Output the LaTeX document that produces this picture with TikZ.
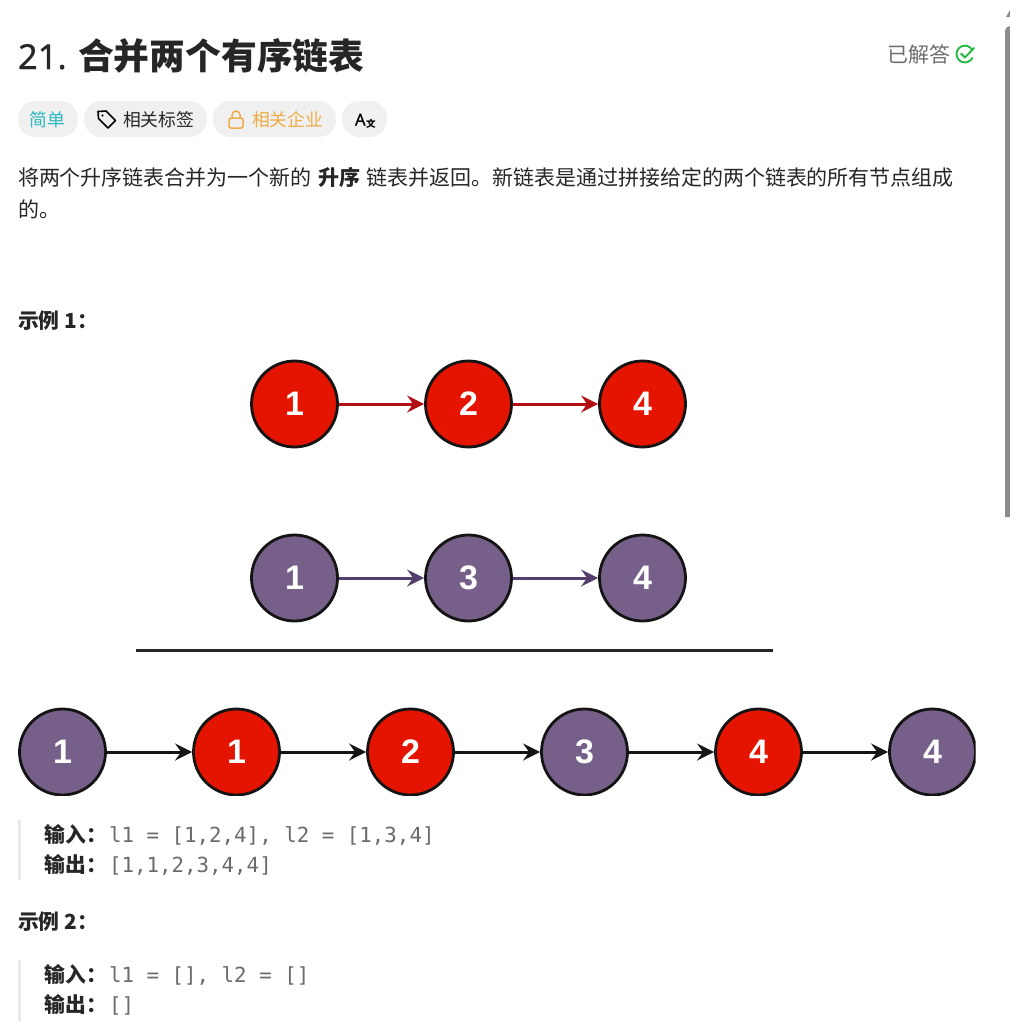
\documentclass[tikz,border=0pt]{standalone}
\usepackage{fontspec}
\setmainfont{Noto Sans CJK SC}
\setmonofont{DejaVu Sans Mono}
\newfontfamily\latinsans{Noto Sans}
\newfontfamily\latinfake{Noto Sans}[FakeBold=0.6]
\newfontfamily\helv{Liberation Sans}[BoldFont={Liberation Sans Bold}]
\usetikzlibrary{arrows.meta}
\definecolor{ink}{HTML}{262626}
\definecolor{redfill}{HTML}{E51400}
\definecolor{purfill}{HTML}{76608A}
\definecolor{redline}{HTML}{B20F14}
\definecolor{purline}{HTML}{533E6E}
\definecolor{pill}{HTML}{F0F0F0}
\definecolor{teal}{HTML}{2DB8C0}
\definecolor{gold}{HTML}{EDAD45}
\definecolor{greytext}{HTML}{6E6E6E}
\definecolor{mono}{HTML}{6B6B6B}
\definecolor{okgreen}{HTML}{1DB83D}
\tikzset{
 x=1pt,y=-1pt,
 lnode/.style={circle,draw=black!92,line width=2.8pt,minimum size=86pt,inner sep=0pt,text=white,font=\helv\bfseries\fontsize{34}{34}\selectfont},
 rnode/.style={lnode,fill=redfill},
 pnode/.style={lnode,fill=purfill},
 link/.style={line width=3pt,-{Stealth[length=17pt,width=17pt,inset=6pt]}},
 rlink/.style={link,draw=redline},
 plink/.style={link,draw=purline},
 klink/.style={link,draw=black!92},
 txt/.style={anchor=base west,inner sep=0pt,outer sep=0pt,text=ink},
 body/.style={txt,font=\fontsize{21}{21}\selectfont},
 bodyb/.style={txt,font=\bfseries\fontsize{20.8}{21}\selectfont},
 code/.style={txt,text=mono,font=\ttfamily\fontsize{20.8}{21}\selectfont},
 tagtxt/.style={txt,font=\fontsize{17.8}{18}\selectfont},
 pillbox/.style={fill=pill,rounded corners=17.5pt},
 quotebar/.style={fill=black!9}
}
\begin{document}
\begin{tikzpicture}
\useasboundingbox (0,0) rectangle (1010,1021);
\fill[white] (0,0) rectangle (1010,1021);
% scrollbar
\fill[black!45] (1005,517) -- (1005,31) arc[start angle=180,end angle=270,radius=5] -- (1010,517) -- cycle;
\fill[black!45] (1006,17) -- (1010,10) -- (1010,17) -- cycle;
% header
\node[txt,font=\latinfake\fontsize{34.5}{35}\selectfont,text=ink] (num) at (18,69) {21.};
\node[txt,font=\bfseries\fontsize{35.8}{36}\selectfont] (title) at (78,69) {合并两个有序链表};
\node[txt,text=greytext,font=\fontsize{21}{21}\selectfont] (solved) at (887,62) {已解答};
\draw[okgreen,line width=1.8pt] (972.5,50.5) arc[start angle=-25,end angle=-335,radius=8.4];
\draw[okgreen,line width=1.8pt,line cap=round,line join=round] (961,53.5) -- (965,57.5) -- (974,48);
% pills
\fill[pillbox] (18,101) rectangle (78,137);
\fill[pillbox] (84,101) rectangle (207,137);
\fill[pillbox] (213,101) rectangle (336,137);
\fill[pillbox] (342,101) rectangle (387,137);
\node[tagtxt,text=teal] (easy) at (30,126) {简单};
\node[tagtxt] (tags) at (123,126) {相关标签};
\node[tagtxt,text=gold] (corp) at (252,126) {相关企业};
\node[txt,font=\latinfake\fontsize{16.5}{17}\selectfont,text=black] (ax) at (355,125.5) {A};
\node[txt,font=\fontsize{9.5}{10}\selectfont,text=black] (axb) at (366,127) {\textbf{文}};
% tag icon
\draw[black,line width=1.6pt,line join=round] (98,111.5) -- (106,111) -- (115.5,120.5) -- (108,128) -- (98.5,118.5) -- cycle;
\fill[black] (102.5,115.5) circle (1.2);
% lock icon
\draw[gold,line width=1.5pt,rounded corners=2pt] (229,118) rectangle (243,128);
\draw[gold,line width=1.5pt] (232,118) -- (232,115) arc[start angle=180,end angle=360,radius=4] -- (240,118);
% description
\node[body] (d1) at (18,185) {将两个升序链表合并为一个新的};
\node[txt,font=\bfseries\fontsize{21}{21}\selectfont] (d2) at (318,185) {升序};
\node[body] (d3) at (366,185) {链表并返回。新链表是通过拼接给定的两个链表的所有节点组成};
\node[body] (d4) at (18,217) {的。};
% example 1
\node[bodyb] (ex1) at (18,328) {示例 1：};
% diagram
\begin{scope}
\clip (0,340) rectangle (975.5,795.5);
\node[rnode] (a1) at (294.5,404) {1};
\node[rnode] (a2) at (468.5,404) {2};
\node[rnode] (a3) at (642.5,404) {4};
\node[pnode] (b1) at (294.5,578) {1};
\node[pnode] (b2) at (468.5,578) {3};
\node[pnode] (b3) at (642.5,578) {4};
\node[pnode] (c1) at (62.5,752) {1};
\node[rnode] (c2) at (236.5,752) {1};
\node[rnode] (c3) at (410.5,752) {2};
\node[pnode] (c4) at (584.5,752) {3};
\node[rnode] (c5) at (758.5,752) {4};
\node[pnode] (c6) at (932.5,752) {4};
\draw[rlink] (a1) -- (a2);
\draw[rlink] (a2) -- (a3);
\draw[plink] (b1) -- (b2);
\draw[plink] (b2) -- (b3);
\draw[klink] (c1) -- (c2);
\draw[klink] (c2) -- (c3);
\draw[klink] (c3) -- (c4);
\draw[klink] (c4) -- (c5);
\draw[klink] (c5) -- (c6);
\end{scope}
\coordinate (ruleL) at (136,650.5);
\coordinate (ruleR) at (773,650.5);
\draw[black!85,line width=2.6pt] (ruleL) -- (ruleR);
% io block 1
\fill[quotebar] (18,820) rectangle (21,880);
\node[bodyb] (i1) at (45,842) {输入：};
\node[code] (i1v) at (109,842) {l1 = [1,2,4], l2 = [1,3,4]};
\node[bodyb] (o1) at (45,872) {输出：};
\node[code] (o1v) at (109,872) {[1,1,2,3,4,4]};
% example 2
\node[bodyb] (ex2) at (18,929) {示例 2：};
% io block 2
\fill[quotebar] (18,960) rectangle (21,1021);
\node[bodyb] (i2) at (45,982) {输入：};
\node[code] (i2v) at (109,982) {l1 = [], l2 = []};
\node[bodyb] (o2) at (45,1012) {输出：};
\node[code] (o2v) at (109,1012) {[]};
\end{tikzpicture}
\end{document}
